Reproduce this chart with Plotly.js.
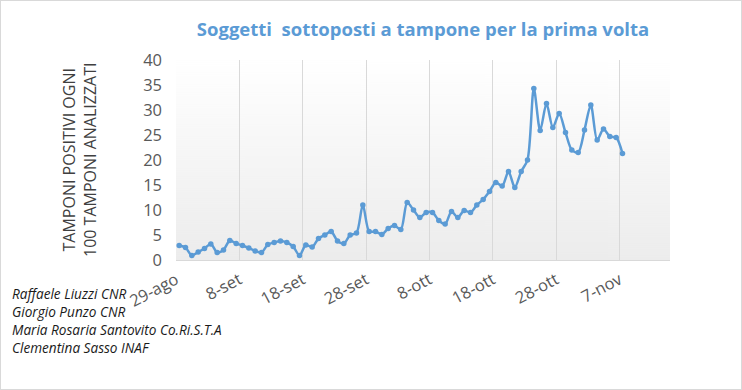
<!DOCTYPE html>
<html>
<head>
<meta charset="utf-8">
<script src="https://cdn.plot.ly/plotly-3.0.1.min.js"></script>
<style>
  html, body { margin:0; padding:0; background:#fff; }
  #wrap { position:relative; width:742px; height:390px; }
  #chart { width:742px; height:390px; }
  #frame { position:absolute; left:0; top:0; width:740px; height:388px; border:1px solid #d9d9d9; pointer-events:none; }
</style>
</head>
<body>
<div id="wrap"><div id="chart"></div><div id="frame"></div></div>
<script>
// ---- data ----
const dates = [
  "2020-08-29","2020-08-30","2020-08-31",
  "2020-09-01","2020-09-02","2020-09-03","2020-09-04","2020-09-05","2020-09-06","2020-09-07","2020-09-08","2020-09-09","2020-09-10",
  "2020-09-11","2020-09-12","2020-09-13","2020-09-14","2020-09-15","2020-09-16","2020-09-17","2020-09-18","2020-09-19","2020-09-20",
  "2020-09-21","2020-09-22","2020-09-23","2020-09-24","2020-09-25","2020-09-26","2020-09-27","2020-09-28","2020-09-29","2020-09-30",
  "2020-10-01","2020-10-02","2020-10-03","2020-10-04","2020-10-05","2020-10-06","2020-10-07","2020-10-08","2020-10-09","2020-10-10",
  "2020-10-11","2020-10-12","2020-10-13","2020-10-14","2020-10-15","2020-10-16","2020-10-17","2020-10-18","2020-10-19","2020-10-20",
  "2020-10-21","2020-10-22","2020-10-23","2020-10-24","2020-10-25","2020-10-26","2020-10-27","2020-10-28","2020-10-29","2020-10-30",
  "2020-10-31","2020-11-01","2020-11-02","2020-11-03","2020-11-04","2020-11-05","2020-11-06","2020-11-07"
];
const positivi = [
  2.9, 2.5, 0.9,
  1.6, 2.3, 3.2, 1.5, 2.0, 3.9, 3.3, 2.9, 2.4, 1.8,
  1.5, 3.1, 3.5, 3.8, 3.5, 2.7, 0.9, 3.0, 2.6, 4.3,
  5.0, 5.7, 3.8, 3.3, 5.0, 5.4, 11.0, 5.7, 5.7, 5.1,
  6.3, 6.9, 6.1, 11.5, 10.0, 8.5, 9.5, 9.5, 7.9, 7.2,
  9.7, 8.5, 9.9, 9.5, 11.0, 12.1, 13.7, 15.5, 14.8, 17.7,
  14.5, 17.7, 20.0, 34.3, 25.9, 31.3, 26.5, 29.3, 25.5, 22.0,
  21.5, 26.0, 31.0, 24.0, 26.2, 24.7, 24.5, 21.3
];
const tickDates = ["2020-08-29","2020-09-08","2020-09-18","2020-09-28","2020-10-08","2020-10-18","2020-10-28","2020-11-07"];
const tickLabels = ["29-ago","8-set","18-set","28-set","8-ott","18-ott","28-ott","7-nov"];
const credits = ["Raffaele Liuzzi CNR","Giorgio Punzo CNR","Maria Rosaria Santovito Co.Ri.S.T.A","Clementina Sasso INAF"];
const titleText = "Soggetti&nbsp; sottoposti a tampone per la prima volta";
const yTitle = "TAMPONI POSITIVI OGNI<br>100 TAMPONI ANALIZZATI";

// ---- gradient background image ----
const cv = document.createElement('canvas');
cv.width = 4; cv.height = 200;
const cx = cv.getContext('2d');
const g = cx.createLinearGradient(0,0,0,200);
g.addColorStop(0,'#ffffff');
g.addColorStop(1,'#ececec');
cx.fillStyle = g; cx.fillRect(0,0,4,200);
const bgURL = cv.toDataURL('image/png');

const W = 742, H = 390;
const L = 176, R = 72, T = 60, B = 130;
const pw = W - L - R, ph = H - T - B;
const px2x = p => (p - L) / pw;
const py2y = p => (H - B - p) / ph;

const annotations = [];
annotations.push({
  text: yTitle, xref:'paper', yref:'paper', x: px2x(79), y: py2y(160),
  xanchor:'center', yanchor:'middle', textangle:-90, showarrow:false,
  font:{family:'Open Sans, sans-serif', size:16, color:'#404040'}, align:'center'
});
const creditY = [293, 311, 329, 347];
credits.forEach((c,i) => annotations.push({
  text: '<i>'+c+'</i>', xref:'paper', yref:'paper', x: px2x(10), y: py2y(creditY[i]),
  xanchor:'left', yanchor:'middle', showarrow:false,
  font:{family:'Open Sans, sans-serif', size:13.6, color:'#1a1a1a'}
}));

const trace = {
  x: dates, y: positivi, type:'scatter', mode:'lines+markers',
  xperiod: 86400000, xperiodalignment:'middle',
  line:{color:'#5b9bd5', width:2.5, shape:'spline', smoothing:0.8},
  marker:{color:'#5b9bd5', size:5.5},
  hoverinfo:'skip'
};

const layout = {
  width: W, height: H,
  margin:{l:L, r:R, t:T, b:B, pad:0},
  paper_bgcolor:'#ffffff', plot_bgcolor:'rgba(0,0,0,0)',
  showlegend:false,
  title:{text:titleText, x:0.5, xref:'paper', xanchor:'center', y:1-30/H, yref:'container', yanchor:'middle',
    font:{family:'Open Sans, sans-serif', size:18.5, color:'#5b9bd5', weight:'bold'}},
  xaxis:{
    type:'date', range:['2020-08-29','2020-11-15'],
    tickvals: tickDates, ticktext: tickLabels, tickangle:-28,
    tickfont:{family:'Open Sans, sans-serif', size:16.5, color:'#595959'},
    showgrid:true, gridcolor:'#d9d9d9', gridwidth:1,
    showline:true, linecolor:'#d9d9d9', linewidth:1,
    ticks:'', zeroline:false, fixedrange:true, ticklabelstandoff:3
  },
  yaxis:{
    range:[0,40], dtick:5, tick0:0,
    tickfont:{family:'Open Sans, sans-serif', size:16.5, color:'#595959'},
    showgrid:false, zeroline:false, showline:false, ticks:'',
    ticklabelstandoff:13, fixedrange:true
  },
  images:[{source:bgURL, xref:'paper', yref:'paper', x:0, y:1, sizex:1, sizey:1,
    sizing:'stretch', xanchor:'left', yanchor:'top', layer:'below'}],
  annotations: annotations
};

Plotly.newPlot('chart', [trace], layout, {staticPlot:true, displayModeBar:false});
</script>
</body>
</html>
